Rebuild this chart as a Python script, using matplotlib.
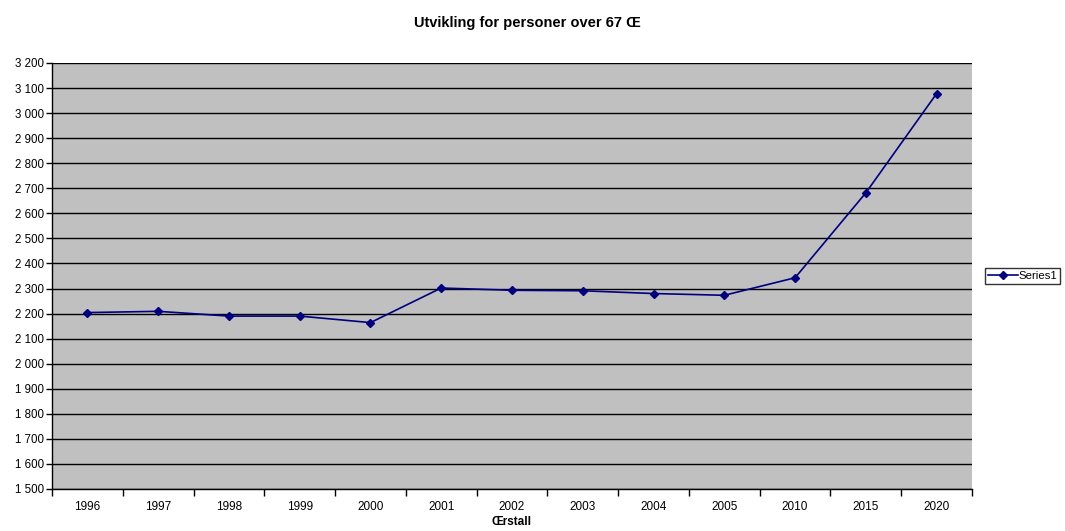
import matplotlib
matplotlib.use("Agg")
import matplotlib.pyplot as plt
from matplotlib.ticker import FuncFormatter, FixedLocator, NullFormatter

plt.rcParams['font.family'] = ['Liberation Sans', 'DejaVu Sans']

years = ["1996", "1997", "1998", "1999", "2000", "2001", "2002",
         "2003", "2004", "2005", "2010", "2015", "2020"]
persons = [2204, 2209, 2190, 2190, 2164, 2302, 2293,
           2291, 2280, 2273, 2343, 2682, 3078]
series_name = "Series1"
title = "Utvikling for personer over 67 Œ"
xlabel = "Œrstall"

fig = plt.figure(figsize=(10.65, 5.31), dpi=100)
ax = fig.add_axes([0.0488, 0.0791, 0.8639, 0.8023])
ax.set_facecolor("#C0C0C0")

x = list(range(len(years)))
ax.plot(x, persons, color="#000080", lw=1.2, marker="D", markersize=4,
        markerfacecolor="#000080", markeredgecolor="#000080", label=series_name,
        zorder=3)

ax.set_xlim(-0.5, len(years) - 0.5)
ax.set_ylim(1500, 3200)
ax.set_yticks(range(1500, 3201, 100))
ax.yaxis.set_major_formatter(FuncFormatter(lambda v, p: f"{int(v):,}".replace(",", " ")))
ax.yaxis.grid(True, color="black", lw=1.0)
ax.set_axisbelow(True)

# category boundaries as tick marks, labels centred in each category
ax.xaxis.set_major_locator(FixedLocator([i - 0.5 for i in range(len(years) + 1)]))
ax.xaxis.set_major_formatter(NullFormatter())
ax.xaxis.set_minor_locator(FixedLocator(x))
ax.set_xticklabels(years, minor=True)
ax.tick_params(axis="x", which="minor", length=0, pad=9, labelsize=8.5)
ax.tick_params(axis="x", which="major", length=5, width=1, direction="out")
ax.tick_params(axis="y", length=4, width=1, direction="out", labelsize=8.3, pad=2)

for s in ("top", "right"):
    ax.spines[s].set_visible(False)
for s in ("left", "bottom"):
    ax.spines[s].set_linewidth(1.0)

ax.set_xlabel(xlabel, fontsize=8.5, fontweight="bold", labelpad=2)
fig.text(0.495, 0.957, title, fontsize=10.5, fontweight="bold", ha="center", va="center")

leg = fig.legend(loc="center left", bbox_to_anchor=(0.925, 0.48), fontsize=8.2,
                 frameon=True, fancybox=False, edgecolor="black", borderpad=0.25,
                 handlelength=2.6, handletextpad=0.1, borderaxespad=0)
leg.get_frame().set_linewidth(1.0)

fig.savefig("out.png", dpi=100)
